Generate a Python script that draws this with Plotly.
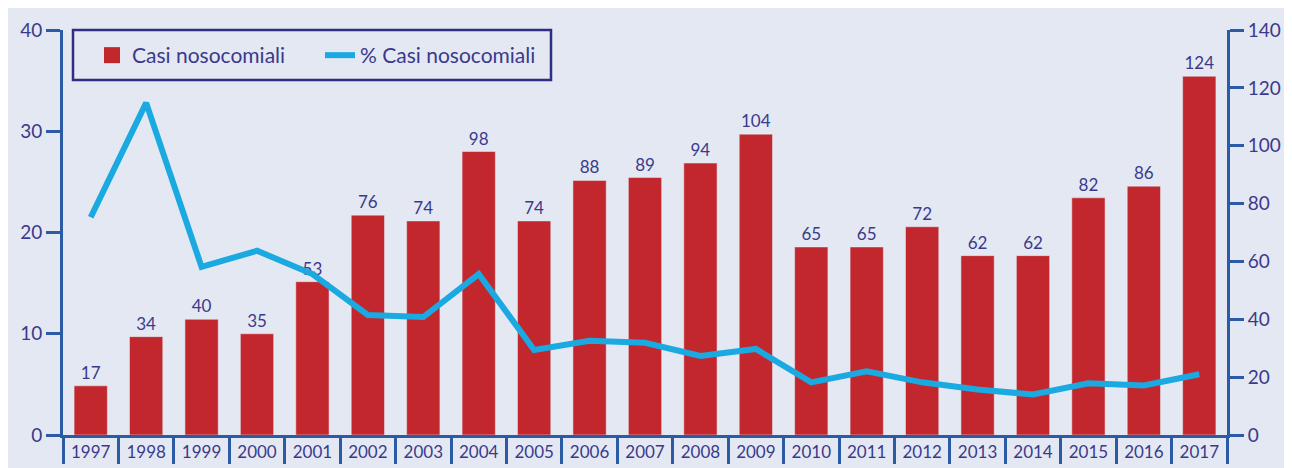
import plotly.graph_objects as go

years = ["1997", "1998", "1999", "2000", "2001", "2002", "2003", "2004", "2005", "2006",
         "2007", "2008", "2009", "2010", "2011", "2012", "2013", "2014", "2015", "2016", "2017"]
casi = [17, 34, 40, 35, 53, 76, 74, 98, 74, 88, 89, 94, 104, 65, 65, 72, 62, 62, 82, 86, 124]
perc = [21.5, 32.8, 16.6, 18.2, 15.9, 11.85, 11.65, 15.9, 8.4, 9.3, 9.1, 7.8, 8.5,
        5.2, 6.3, 5.2, 4.5, 4.0, 5.1, 4.9, 6.0]

BG = "#e4e8f2"
AXIS = "#2c5ba6"
TXT = "#3a3a8c"
RED = "#c1272d"
FONT = "Lato"

fig = go.Figure()
fig.add_trace(go.Bar(
    x=years, y=casi, name="Casi nosocomiali", marker_color=RED, showlegend=False,
    width=0.6, text=casi, textposition="outside", cliponaxis=False,
    textfont=dict(color=TXT, size=17, family=FONT), yaxis="y"))
# legend entry with a larger square swatch for the bars
fig.add_trace(go.Scatter(
    x=[years[0]], y=[None], name="Casi nosocomiali", mode="markers",
    marker=dict(symbol="square", size=20, color=RED), yaxis="y"))
fig.add_trace(go.Scatter(
    x=years, y=perc, name="% Casi nosocomiali", mode="lines",
    line=dict(color="#1aa9e0", width=6), yaxis="y2"))

# page body has an 8px margin; figure occupies screen (8,8)-(1292,468)
OFF = 8
W, H = 1292 - OFF, 468 - OFF
L, T = 63 - OFF, 30 - OFF
R = W - (1227 - OFF)
B = H - (435 - OFF)
pw = W - L - R
ph = H - T - B


def px_x(sx):
    return (sx - OFF - L) / pw


def px_y(sy):
    return 1 - (sy - OFF - T) / ph


fig.update_layout(
    width=W, height=H,
    margin=dict(l=L, r=R, t=T, b=B, autoexpand=False),
    paper_bgcolor=BG, plot_bgcolor=BG,
    font=dict(family=FONT, color=TXT, size=17),
    showlegend=True,
    legend=dict(orientation="h", x=px_x(92), y=px_y(35), xanchor="left", yanchor="top",
                bgcolor="rgba(0,0,0,0)", borderwidth=0,
                font=dict(size=21, color=TXT, family=FONT),
                entrywidth=183, entrywidthmode="pixels",
                traceorder="normal"),
    bargap=0.4,
    xaxis=dict(type="category", range=[-0.5, 20.5], showline=True, linecolor=AXIS,
               linewidth=3, ticks="outside", tickson="boundaries", ticklen=26,
               tickwidth=3, tickcolor=AXIS, tickfont=dict(size=17, color=TXT),
               ticklabelstandoff=0, showgrid=False, zeroline=False, automargin=False),
    yaxis=dict(range=[0, 140], dtick=20, side="right", showline=True, linecolor=AXIS,
               linewidth=3, ticks="outside", ticklen=14, tickwidth=3, tickcolor=AXIS,
               tickfont=dict(size=19, color=TXT), showgrid=False, zeroline=False,
               automargin=False),
    yaxis2=dict(range=[0, 40], dtick=10, side="left", overlaying="y", showline=True,
                linecolor=AXIS, linewidth=3, ticks="outside", ticklen=14, tickwidth=3,
                tickcolor=AXIS, tickfont=dict(size=19, color=TXT), showgrid=False,
                zeroline=False, automargin=False),
    shapes=[dict(type="rect", xref="paper", yref="paper", layer="above",
                 x0=px_x(73), x1=px_x(551), y0=px_y(80), y1=px_y(30),
                 fillcolor="rgba(0,0,0,0)", line=dict(color="#2e2e85", width=2.5))],
)

fig.write_html("out.html")
